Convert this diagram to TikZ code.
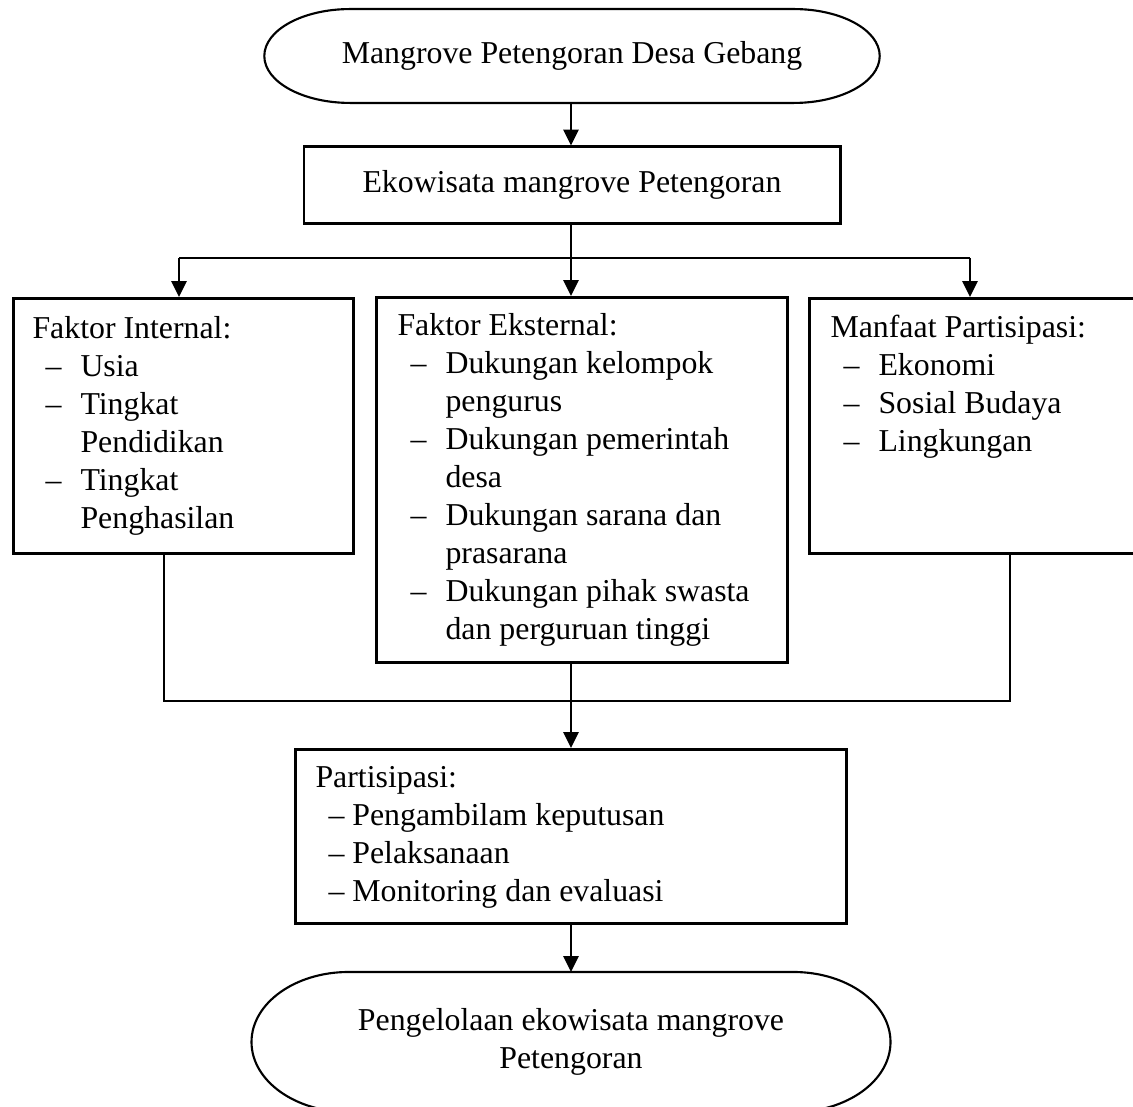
\documentclass[tikz,border=0pt]{standalone}
\usepackage{fontspec}
\setmainfont{Liberation Serif}
\usetikzlibrary{arrows.meta}
\newcommand{\itm}{\hspace*{4.9pt}\makebox[13.2pt][l]{--}}
\newcommand{\cnt}{\hspace*{18.1pt}}
\tikzset{
  box/.style={draw, line width=1.1pt, inner sep=0pt},
  oval/.style={inner sep=0pt, outer sep=0pt, align=center},
  txt/.style={align=left, inner sep=0pt, anchor=north west},
  line/.style={line width=0.5pt},
  arrow/.style={line width=1pt, -{Triangle[length=6pt,width=5.7pt]}},
}
\begin{document}
\begin{tikzpicture}[x=0.377pt, y=-0.377pt, font=\fontsize{12}{14.3}\selectfont]
  \useasboundingbox (0,0) rectangle (1133,1106);
  \clip (0,0) rectangle (1133,1106);
  %% Start oval
  \node[oval, minimum width=232pt, minimum height=35.4pt] (mangrove) at (572,56) {Mangrove Petengoran Desa Gebang};
  \draw[line width=0.8pt] ([xshift=32.4pt]mangrove.north west) -- ([xshift=-32.4pt]mangrove.north east)
    arc[start angle=90, end angle=-90, x radius=32.4pt, y radius=17.7pt]
    -- ([xshift=32.4pt]mangrove.south west)
    arc[start angle=270, end angle=90, x radius=32.4pt, y radius=17.7pt] -- cycle;
  \node[box, minimum width=202.1pt, minimum height=28.7pt] (ekowisata) at (572,185) {Ekowisata mangrove Petengoran};
  %% Factor boxes
  \node[box, minimum width=128.2pt, minimum height=96.1pt, anchor=north west] (internal) at (12,297) {};
  \node[txt] (internaltxt) at (32,316) {Faktor Internal:\\ \itm Usia\\ \itm Tingkat\\ \cnt Pendidikan\\ \itm Tingkat\\ \cnt Penghasilan};
  \node[box, minimum width=155pt, minimum height=137.6pt, anchor=north west] (eksternal) at (375,296) {};
  \node[txt] (eksternaltxt) at (397,313) {Faktor Eksternal:\\ \itm Dukungan kelompok\\ \cnt pengurus\\ \itm Dukungan pemerintah\\ \cnt desa\\ \itm Dukungan sarana dan\\ \cnt prasarana\\ \itm Dukungan pihak swasta\\ \cnt dan perguruan tinggi};
  \node[box, minimum width=123.7pt, minimum height=96.1pt, anchor=north west] (manfaat) at (808,297) {};
  \node[txt] (manfaattxt) at (830,315) {Manfaat Partisipasi:\\ \itm Ekonomi\\ \itm Sosial Budaya\\ \itm Lingkungan};
  %% Participation and end oval
  \node[box, minimum width=207.7pt, minimum height=65.6pt, anchor=north west] (partisipasi) at (294,748) {};
  \node[txt] (partisipasitxt) at (315,766) {Partisipasi:\\ \hspace*{4.9pt}-- Pengambilam keputusan\\ \hspace*{4.9pt}-- Pelaksanaan\\ \hspace*{4.9pt}-- Monitoring dan evaluasi};
  \node[oval, minimum width=240.9pt, minimum height=52.8pt] (pengelolaan) at (571,1042) {Pengelolaan ekowisata mangrove\\ Petengoran};
  \draw[line width=0.8pt] ([xshift=36.6pt]pengelolaan.north west) -- ([xshift=-36.6pt]pengelolaan.north east)
    arc[start angle=90, end angle=-90, x radius=36.6pt, y radius=26.4pt]
    -- ([xshift=36.6pt]pengelolaan.south west)
    arc[start angle=270, end angle=90, x radius=36.6pt, y radius=26.4pt] -- cycle;
  %% Connectors
  \coordinate (split) at (571,258);
  \coordinate (busl) at (179,258);
  \coordinate (busr) at (970,258);
  \coordinate (join) at (571,701);
  \coordinate (joinl) at (164,701);
  \coordinate (joinr) at (1010,701);
  \draw[arrow] (mangrove.south -| split) -- (ekowisata.north -| split);
  \draw[line] (ekowisata.south -| split) -- (split);
  \draw[line] (busl) -- (busr);
  \draw[arrow] (busl) -- (busl |- internal.north);
  \draw[arrow] (split) -- (split |- eksternal.north);
  \draw[arrow] (busr) -- (busr |- manfaat.north);
  \draw[line] (joinl |- internal.south) -- (joinl) -- (joinr) -- (joinr |- manfaat.south);
  \draw[line] (join |- eksternal.south) -- (join);
  \draw[arrow] (join) -- (join |- partisipasi.north);
  \draw[arrow] (join |- partisipasi.south) -- (join |- pengelolaan.north);
\end{tikzpicture}
\end{document}
